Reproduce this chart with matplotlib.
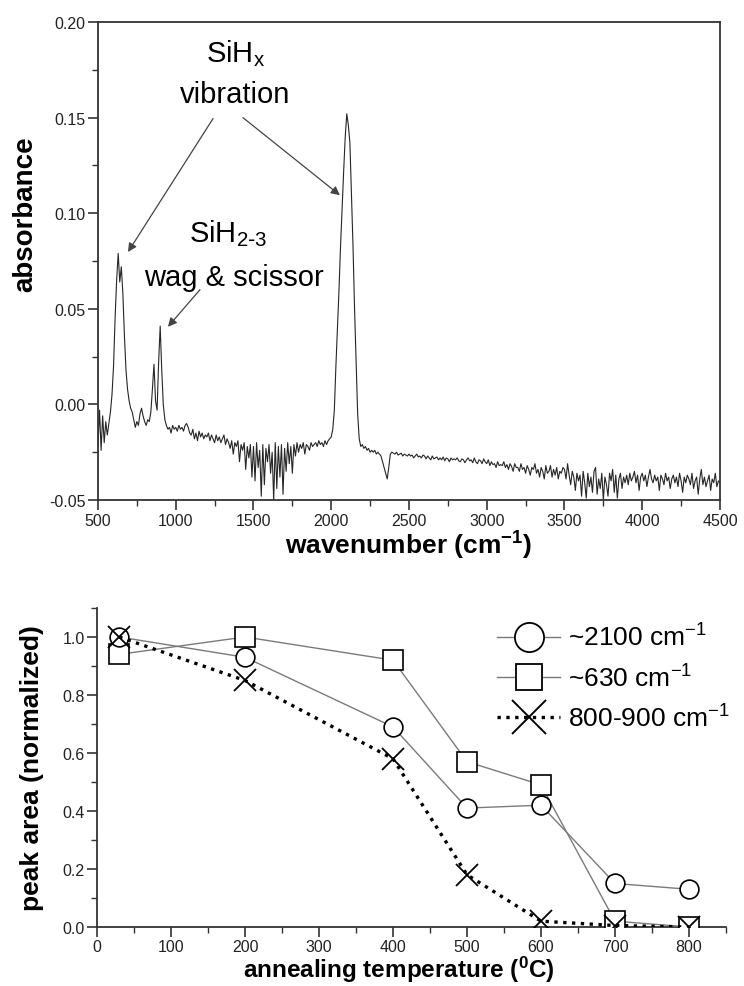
import numpy as np
import matplotlib
matplotlib.use("Agg")
import matplotlib.pyplot as plt
from matplotlib.lines import Line2D
from matplotlib.ticker import MultipleLocator, FormatStrFormatter

plt.rcParams['font.family'] = ['Liberation Sans', 'DejaVu Sans']
plt.rcParams['mathtext.default'] = 'regular'

# ---------------- data: FTIR spectrum (10 cm-1 grid) ----------------
wn_start, wn_step = 500, 10
r500 = [-0.022, -0.003, -0.024, -0.006, -0.020, -0.009, -0.016, -0.010, -0.004, 0.005]
r600 = [0.020, 0.045, 0.065, 0.079, 0.064, 0.072, 0.058, 0.036, 0.018, 0.008]
r700 = [0.002, -0.002, -0.004, -0.008, -0.012, -0.009, -0.011, -0.005, -0.002, -0.006]
r800 = [-0.009, -0.011, -0.008, -0.009, -0.004, 0.008, 0.021, 0.002, -0.003, 0.022]
r900 = [0.041, 0.018, 0.000, -0.008, -0.011, -0.013, -0.012, -0.015, -0.011, -0.013]
r1000 = [-0.012, -0.014, -0.011, -0.013, -0.012, -0.014, -0.011, -0.010, -0.012, -0.015]
r1100 = [-0.016, -0.013, -0.018, -0.015, -0.019, -0.014, -0.017, -0.015, -0.018, -0.016]
r1200 = [-0.017, -0.015, -0.019, -0.016, -0.018, -0.020, -0.016, -0.019, -0.017, -0.020]
r1300 = [-0.018, -0.016, -0.021, -0.018, -0.020, -0.023, -0.019, -0.026, -0.020, -0.022]
r1400 = [-0.019, -0.030, -0.021, -0.024, -0.020, -0.034, -0.022, -0.028, -0.021, -0.038]
r1500 = [-0.022, -0.040, -0.020, -0.033, -0.024, -0.048, -0.021, -0.042, -0.023, -0.030]
r1600 = [-0.021, -0.036, -0.025, -0.050, -0.020, -0.044, -0.022, -0.038, -0.021, -0.047]
r1700 = [-0.023, -0.035, -0.020, -0.031, -0.022, -0.036, -0.021, -0.027, -0.020, -0.025]
r1800 = [-0.021, -0.023, -0.020, -0.026, -0.021, -0.022, -0.024, -0.020, -0.022, -0.021]
r1900 = [-0.020, -0.022, -0.019, -0.021, -0.020, -0.022, -0.019, -0.021, -0.019, -0.018]
r2000 = [-0.017, -0.013, -0.003, 0.020, 0.040, 0.060, 0.083, 0.103, 0.122, 0.140]
r2100 = [0.152, 0.146, 0.137, 0.110, 0.083, 0.050, 0.022, -0.005, -0.018, -0.022]
r2200 = [-0.021, -0.023, -0.022, -0.024, -0.023, -0.025, -0.024, -0.025, -0.024, -0.026]
r2300 = [-0.025, -0.026, -0.027, -0.030, -0.033, -0.036, -0.039, -0.033, -0.026, -0.025]
r2400 = [-0.0255, -0.026, -0.025, -0.0265, -0.026, -0.0255, -0.027, -0.026, -0.0265, -0.027]
r2500 = [-0.026, -0.027, -0.0265, -0.028, -0.027, -0.026, -0.0275, -0.027, -0.028, -0.0265]
r2600 = [-0.027, -0.0285, -0.027, -0.028, -0.029, -0.027, -0.0285, -0.028, -0.0275, -0.029]
r2700 = [-0.028, -0.029, -0.0275, -0.0295, -0.028, -0.0285, -0.030, -0.028, -0.029, -0.0285]
r2800 = [-0.029, -0.028, -0.0295, -0.030, -0.0285, -0.029, -0.0305, -0.029, -0.028, -0.0295]
r2900 = [-0.029, -0.0305, -0.028, -0.030, -0.031, -0.029, -0.0295, -0.031, -0.0285, -0.030]
r3000 = [-0.031, -0.029, -0.032, -0.030, -0.0315, -0.031, -0.033, -0.030, -0.032, -0.0315]
r3100 = [-0.032, -0.030, -0.033, -0.0315, -0.034, -0.031, -0.0325, -0.035, -0.031, -0.033]
r3200 = [-0.033, -0.035, -0.031, -0.034, -0.033, -0.036, -0.032, -0.034, -0.037, -0.033]
r3300 = [-0.034, -0.031, -0.036, -0.034, -0.038, -0.033, -0.035, -0.039, -0.032, -0.036]
r3400 = [-0.035, -0.032, -0.038, -0.034, -0.037, -0.033, -0.039, -0.035, -0.036, -0.033]
r3500 = [-0.034, -0.039, -0.031, -0.037, -0.042, -0.035, -0.038, -0.045, -0.036, -0.040]
r3600 = [-0.037, -0.048, -0.035, -0.041, -0.049, -0.036, -0.043, -0.038, -0.046, -0.035]
r3700 = [-0.033, -0.047, -0.039, -0.044, -0.036, -0.050, -0.038, -0.042, -0.048, -0.036]
r3800 = [-0.040, -0.034, -0.046, -0.037, -0.049, -0.039, -0.036, -0.044, -0.038, -0.041]
r3900 = [-0.037, -0.042, -0.036, -0.040, -0.038, -0.035, -0.041, -0.037, -0.045, -0.038]
r4000 = [-0.036, -0.040, -0.037, -0.043, -0.038, -0.034, -0.039, -0.041, -0.037, -0.040]
r4100 = [-0.038, -0.045, -0.037, -0.039, -0.042, -0.036, -0.040, -0.038, -0.044, -0.039]
r4200 = [-0.037, -0.041, -0.038, -0.043, -0.036, -0.040, -0.046, -0.038, -0.041, -0.037]
r4300 = [-0.039, -0.042, -0.036, -0.044, -0.040, -0.038, -0.047, -0.039, -0.034, -0.042]
r4400 = [-0.038, -0.043, -0.040, -0.037, -0.045, -0.039, -0.041, -0.036, -0.043, -0.040]
r4500 = [-0.041]

absorbance = (r500 + r600 + r700 + r800 + r900 + r1000 + r1100 + r1200 + r1300 + r1400
              + r1500 + r1600 + r1700 + r1800 + r1900 + r2000 + r2100 + r2200 + r2300
              + r2400 + r2500 + r2600 + r2700 + r2800 + r2900 + r3000 + r3100 + r3200
              + r3300 + r3400 + r3500 + r3600 + r3700 + r3800 + r3900 + r4000 + r4100
              + r4200 + r4300 + r4400 + r4500)
wavenumber = wn_start + wn_step * np.arange(len(absorbance))

# ---------------- data: peak areas vs annealing temperature ----------------
temperature = [30, 200, 400, 500, 600, 700, 800]
area_2100 = [1.00, 0.93, 0.69, 0.41, 0.42, 0.15, 0.13]
area_630 = [0.94, 1.00, 0.92, 0.57, 0.49, 0.02, 0.00]
area_800_900 = [1.00, 0.85, 0.58, 0.18, 0.02, 0.005, 0.00]
legend_labels = ['~2100 cm$^{-1}$', '~630 cm$^{-1}$', '800-900 cm$^{-1}$']

# ---------------- figure ----------------
fig = plt.figure(figsize=(7.44, 9.87), dpi=100)
ax1 = fig.add_axes([0.1317, 0.4924, 0.836, 0.4843])
ax2 = fig.add_axes([0.1304, 0.0598, 0.8454, 0.3232])

tick_fs = 11.5
label_fs = 19
spine_col = '#333333'

# --- top panel ---
ax1.plot(wavenumber, absorbance, color='#262626', lw=0.8)
ax1.set_xlim(500, 4500)
ax1.set_ylim(-0.05, 0.20)
ax1.xaxis.set_major_locator(MultipleLocator(500))
ax1.xaxis.set_minor_locator(MultipleLocator(250))
ax1.yaxis.set_major_locator(MultipleLocator(0.05))
ax1.yaxis.set_minor_locator(MultipleLocator(0.025))
ax1.yaxis.set_major_formatter(FormatStrFormatter('%.2f'))
ax1.set_xlabel('wavenumber (cm$^{-1}$)', fontsize=label_fs, fontweight='bold', va='center')
ax1.set_ylabel('absorbance', fontsize=label_fs + 1, fontweight='bold')
ax1.yaxis.set_label_coords(-0.096, 0.60)
ax1.xaxis.set_label_coords(0.5, -0.093)

ann_fs = 21
arrow_kw = dict(arrowstyle='-|>', color='#444444', lw=0.9, mutation_scale=13, shrinkA=0, shrinkB=0)
ax1.text(1387, 0.184, 'SiH$_x$', fontsize=ann_fs, ha='center', va='center')
ax1.text(1380, 0.1625, 'vibration', fontsize=ann_fs, ha='center', va='center')
ax1.annotate('', xy=(693, 0.0797), xytext=(1240, 0.1495), arrowprops=arrow_kw)
ax1.annotate('', xy=(2056, 0.1094), xytext=(1432, 0.150), arrowprops=arrow_kw)
ax1.text(1336, 0.090, 'SiH$_{2\\text{-}3}$', fontsize=ann_fs, ha='center', va='center')
ax1.text(1375, 0.0667, 'wag & scissor', fontsize=ann_fs, ha='center', va='center')
ax1.annotate('', xy=(950, 0.0406), xytext=(1156, 0.060), arrowprops=arrow_kw)

# --- bottom panel ---
line_col = '#7a7a7a'
ax2.plot(temperature, area_630, color=line_col, lw=1.0, marker='s', ms=14,
         mfc='white', mec='black', mew=1.2, zorder=3)
ax2.plot(temperature, area_2100, color=line_col, lw=1.0, marker='o', ms=13.5,
         mfc='white', mec='black', mew=1.2, zorder=4)
ax2.plot(temperature, area_800_900, color='black', lw=2.4, ls=':', marker='x', ms=16,
         mec='black', mew=1.3, zorder=5)
ax2.set_xlim(0, 850)
ax2.set_ylim(0, 1.1)
ax2.xaxis.set_major_locator(MultipleLocator(100))
ax2.xaxis.set_minor_locator(MultipleLocator(50))
ax2.yaxis.set_major_locator(MultipleLocator(0.2))
ax2.yaxis.set_minor_locator(MultipleLocator(0.1))
ax2.yaxis.set_major_formatter(FormatStrFormatter('%.1f'))
ax2.set_xlabel('annealing temperature ($^{0}$C)', fontsize=17.5, fontweight='bold', va='center')
ax2.set_ylabel('peak area (normalized)', fontsize=label_fs, fontweight='bold')
ax2.yaxis.set_label_coords(-0.084, 0.5)
ax2.xaxis.set_label_coords(0.48, -0.132)
ax2.spines['top'].set_visible(False)
ax2.spines['right'].set_visible(False)

handles = [
    Line2D([], [], color=line_col, lw=1.0, marker='o', ms=21, mfc='white', mec='black', mew=1.3),
    Line2D([], [], color=line_col, lw=1.0, marker='s', ms=19, mfc='white', mec='black', mew=1.3),
    Line2D([], [], color='black', lw=2.4, ls=':', marker='x', ms=24, mec='black', mew=1.4),
]
fig.legend(handles, legend_labels, loc='upper left', bbox_to_anchor=(0.668, 0.367),
           frameon=False, fontsize=19, handlelength=2.4, handletextpad=0.3,
           labelspacing=0.49, borderpad=0, borderaxespad=0)

for ax in (ax1, ax2):
    for s in ax.spines.values():
        s.set_color(spine_col)
        s.set_linewidth(1.3)
    ax.tick_params(which='major', direction='out', length=7, width=1.2, colors=spine_col,
                   labelsize=tick_fs, labelcolor='#222222', top=False, right=False, pad=2)
    ax.tick_params(which='minor', direction='out', length=4, width=1.0, colors=spine_col,
                   top=False, right=False)

fig.savefig('out.png', dpi=100, facecolor='white')
